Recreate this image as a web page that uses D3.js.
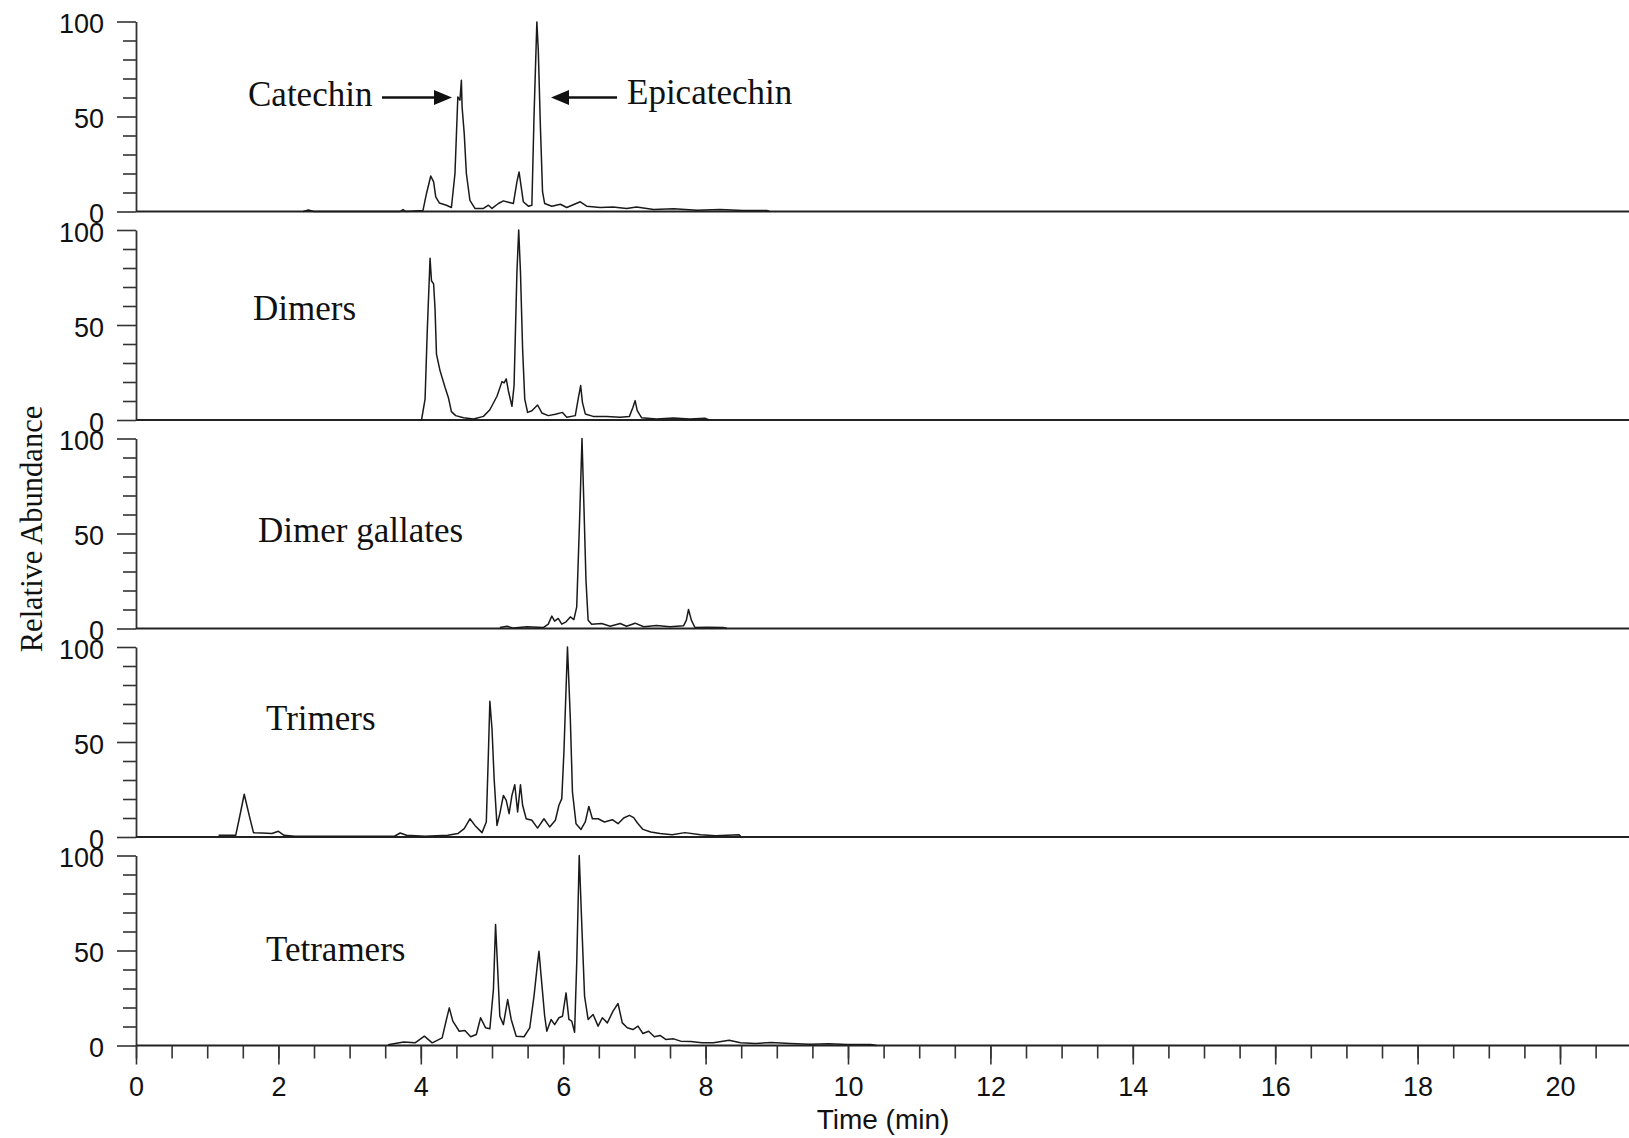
<!DOCTYPE html>
<html>
<head>
<meta charset="utf-8">
<script src="https://cdn.jsdelivr.net/npm/d3@7"></script>
<style>
  html, body { margin: 0; padding: 0; background: #fff; }
  svg { display: block; }
</style>
</head>
<body>
<svg id="chart" width="1629" height="1138"></svg>
<script>
// ---------------- DATA ----------------
const panelNames = ["Catechin / Epicatechin", "Dimers", "Dimer gallates", "Trimers", "Tetramers"];
const yTickLabels = [0, 50, 100];
const xTickLabels = [0, 2, 4, 6, 8, 10, 12, 14, 16, 18, 20];

// [time (min), relative abundance (%)]
const catechinTrace = [
  [2.35,0],[2.42,0.8],[2.5,0],[3.71,0],[3.75,1],[3.79,0],[4.03,0.5],[4.08,9.5],[4.14,18.7],[4.18,15.6],
  [4.21,7.7],[4.26,4.5],[4.36,3.3],[4.43,2.1],[4.48,20],[4.52,60.3],[4.55,58.6],[4.57,69.1],[4.58,55],
  [4.61,41],[4.64,20],[4.69,5.9],[4.76,1.6],[4.88,1.6],[4.95,3.3],[5.0,1.6],[5.09,4.2],[5.16,5.6],
  [5.23,4.9],[5.3,4.2],[5.35,15.6],[5.38,20.8],[5.41,13],[5.44,5.1],[5.51,2.8],[5.56,3.3],[5.59,49.8],
  [5.63,99.8],[5.65,84.9],[5.68,44.5],[5.71,10.3],[5.74,4.2],[5.84,2.8],[5.96,3.8],[6.05,2.1],[6.24,5.1],
  [6.33,2.8],[6.52,2.1],[6.7,2.4],[6.89,1.6],[7.03,2.4],[7.27,1],[7.55,1.4],[7.88,0.7],[8.2,1],
  [8.53,0.5],[8.86,0.5],[8.9,0]
];
const dimersTrace = [
  [4.01,0],[4.06,11],[4.09,46],[4.13,85.1],[4.15,73.3],[4.18,71.6],[4.2,58.4],[4.22,34.7],[4.27,26],
  [4.34,17.2],[4.39,11.4],[4.43,4.4],[4.49,2.3],[4.6,1.2],[4.74,0.5],[4.88,1.9],[4.97,5.4],[5.07,12.5],
  [5.14,20.2],[5.17,19.5],[5.2,21.6],[5.23,15.4],[5.28,7.2],[5.31,18.1],[5.35,77.7],[5.375,100],
  [5.4,77.7],[5.43,37.4],[5.46,11],[5.5,4],[5.56,4.9],[5.64,7.9],[5.7,3.7],[5.79,2.3],[5.89,3],
  [5.99,4],[6.05,1.4],[6.17,2.3],[6.21,11],[6.245,18.1],[6.27,9.3],[6.31,3.2],[6.42,1.9],[6.61,1.9],
  [6.8,1.4],[6.93,1.9],[6.98,6.7],[7.01,10.2],[7.04,4.9],[7.1,1.2],[7.31,0.5],[7.55,1],[7.78,0.5],
  [7.99,0.9],[8.05,0]
];
const gallatesTrace = [
  [5.11,0.5],[5.21,1.2],[5.3,0.2],[5.49,0.9],[5.72,0.5],[5.79,2.3],[5.84,6.5],[5.88,3.9],[5.93,5.3],
  [5.98,2.3],[6.04,3.5],[6.1,6.1],[6.15,4.7],[6.19,11.4],[6.23,57],[6.264,100],[6.29,65.8],[6.32,25.4],
  [6.35,4.4],[6.4,2.3],[6.54,2.6],[6.66,1.2],[6.8,2.6],[6.89,1.2],[7.01,2.8],[7.13,0.9],[7.31,1.6],
  [7.5,0.9],[7.69,1.4],[7.73,4.4],[7.76,10],[7.8,4.4],[7.85,0.5],[8.02,0.7],[8.25,0.5],[8.3,0]
];
const trimersTrace = [
  [1.16,0.9],[1.4,0.9],[1.45,9.6],[1.52,22.5],[1.59,11.4],[1.65,2.3],[1.77,2.1],[1.91,1.8],[2.0,3],
  [2.08,0.9],[2.23,0.4],[3.63,0.4],[3.71,2.1],[3.8,0.9],[4.06,0.4],[4.38,0.9],[4.52,1.8],[4.61,4.4],
  [4.69,9.6],[4.76,6.1],[4.86,2.3],[4.92,7.9],[4.95,44.7],[4.97,71.4],[5.0,57],[5.03,30.7],[5.07,6.1],
  [5.11,12.3],[5.16,21.9],[5.2,19.3],[5.24,12.3],[5.28,21.9],[5.32,27.5],[5.36,13.2],[5.4,27.5],
  [5.43,16.7],[5.48,9.6],[5.56,8.8],[5.64,4.7],[5.73,9.6],[5.81,5.3],[5.89,8.8],[5.94,16.7],[5.98,20.2],
  [6.01,44.7],[6.06,100],[6.1,62.3],[6.13,23.7],[6.18,7],[6.25,4],[6.31,7.9],[6.36,16.1],[6.41,9.6],
  [6.49,9.6],[6.58,7.9],[6.69,9.1],[6.77,7],[6.85,10],[6.93,11.4],[6.99,10.2],[7.04,7.5],[7.12,4],
  [7.23,2.6],[7.36,1.8],[7.53,1.2],[7.71,2.3],[7.93,1.2],[8.14,0.7],[8.47,1.2],[8.5,0]
];
const tetramersTrace = [
  [3.54,0.4],[3.76,1.9],[3.92,1.4],[4.05,4.9],[4.16,1.4],[4.3,4],[4.36,13.7],[4.4,19.8],[4.45,12.8],
  [4.54,7.5],[4.62,7.9],[4.7,4.6],[4.78,5.8],[4.84,14.6],[4.91,9.3],[4.97,8.8],[5.02,29.5],[5.05,63.7],
  [5.08,40],[5.11,15.4],[5.16,11],[5.22,24.2],[5.27,13.7],[5.34,4.9],[5.45,4.6],[5.53,9.3],[5.59,26],
  [5.64,43.5],[5.66,49.6],[5.69,36.5],[5.74,15.4],[5.77,7.5],[5.83,13.7],[5.88,11],[5.94,14.6],
  [5.99,15.4],[6.04,27.7],[6.08,13.7],[6.12,12.8],[6.16,7],[6.19,43.5],[6.225,100],[6.26,64.6],
  [6.3,26],[6.35,13.7],[6.42,16.3],[6.49,10.2],[6.55,14.6],[6.62,11.9],[6.7,18.1],[6.77,22.1],
  [6.83,11.9],[6.9,9.3],[6.98,8.4],[7.05,10.2],[7.12,6.3],[7.2,7.5],[7.28,4.6],[7.36,5.3],[7.44,3.2],
  [7.55,3.5],[7.65,2.3],[7.79,2.1],[7.95,1.4],[8.11,1.4],[8.33,2.8],[8.49,1.4],[8.7,1.1],[8.92,1.6],
  [9.19,1.1],[9.46,0.7],[9.73,0.9],[9.99,0.5],[10.32,0.5],[10.4,0]
];
const traces = [catechinTrace, dimersTrace, gallatesTrace, trimersTrace, tetramersTrace];

// ---------------- LAYOUT ----------------
const W = 1629, H = 1138;
const axisX = 136;
const firstBase = 211.5, panelStep = 208.5, panelH = 190;
const svg = d3.select("#chart");

const x = d3.scaleLinear().domain([0, 21]).range([axisX, axisX + 71.2 * 21]);

const sans = "'Liberation Sans', Arial, Helvetica, sans-serif";
const serif = "'Liberation Serif', 'Times New Roman', Times, serif";
const ink = "#1a1a1a";

const panels = traces.map((tr, i) => {
  const base = firstBase + i * panelStep;
  const y = d3.scaleLinear().domain([0, 100]).range([base, base - panelH]);
  return { tr, y, base };
});

panels.forEach((p, i) => {
  const g = svg.append("g");

  // minor y ticks
  const minor = g.append("g").attr("transform", `translate(${axisX},0)`)
    .call(d3.axisLeft(p.y).tickValues([10,20,30,40,60,70,80,90]).tickSize(13).tickFormat(""));
  minor.select(".domain").remove();
  minor.selectAll("line").attr("stroke", "#333").attr("stroke-width", 1.6);

  // major y ticks + labels
  const major = g.append("g").attr("transform", `translate(${axisX},0)`)
    .call(d3.axisLeft(p.y).tickValues(yTickLabels).tickSize(19).tickPadding(13).tickSizeOuter(0));
  major.select(".domain").attr("stroke", "#333").attr("stroke-width", 1.8);
  major.selectAll("line").attr("stroke", "#333").attr("stroke-width", 1.6);
  major.selectAll("text")
    .attr("font-family", sans).attr("font-size", 27).attr("fill", "#111").attr("dy", "0.42em");

  // baseline
  g.append("line")
    .attr("x1", x(0)).attr("x2", W)
    .attr("y1", p.y(0)).attr("y2", p.y(0))
    .attr("stroke", "#222").attr("stroke-width", 2.2);

  // trace
  g.append("path")
    .datum(p.tr)
    .attr("fill", "none")
    .attr("stroke", ink)
    .attr("stroke-width", 1.5)
    .attr("stroke-linejoin", "round")
    .attr("d", d3.line().x(d => x(d[0])).y(d => p.y(d[1])));
});

// bottom x axis
const bottomBase = panels[4].base;
const xMinor = svg.append("g").attr("transform", `translate(0,${bottomBase})`)
  .call(d3.axisBottom(x).tickValues(d3.range(0, 20.6, 0.5)).tickSize(13).tickFormat(""));
xMinor.select(".domain").remove();
xMinor.selectAll("line").attr("stroke", "#333").attr("stroke-width", 1.6);
const xMajor = svg.append("g").attr("transform", `translate(0,${bottomBase})`)
  .call(d3.axisBottom(x).tickValues(xTickLabels).tickSize(19).tickPadding(12).tickSizeOuter(0));
xMajor.select(".domain").remove();
xMajor.selectAll("line").attr("stroke", "#333").attr("stroke-width", 1.6);
xMajor.selectAll("text").attr("font-family", sans).attr("font-size", 27).attr("fill", "#111");

// axis titles
svg.append("text")
  .attr("x", 883).attr("y", 1129)
  .attr("text-anchor", "middle")
  .attr("font-family", sans).attr("font-size", 28).attr("fill", "#111")
  .text("Time (min)");

svg.append("text")
  .attr("transform", "translate(42,529) rotate(-90)")
  .attr("text-anchor", "middle")
  .attr("font-family", serif).attr("font-size", 30.5).attr("fill", "#111")
  .text("Relative Abundance");

// panel labels
const labelStyle = sel => sel.attr("font-family", serif).attr("font-size", 35).attr("fill", "#111");
svg.append("text").attr("x", 248).attr("y", 106).call(labelStyle).text("Catechin");
svg.append("text").attr("x", 627).attr("y", 104).call(labelStyle).text("Epicatechin");
svg.append("text").attr("x", 253).attr("y", 320).call(labelStyle).text(panelNames[1]);
svg.append("text").attr("x", 258).attr("y", 542).call(labelStyle).text(panelNames[2]);
svg.append("text").attr("x", 266).attr("y", 730).call(labelStyle).text(panelNames[3]);
svg.append("text").attr("x", 266).attr("y", 961).call(labelStyle).text(panelNames[4]);

// arrows (in data units of panel 1)
const y0 = panels[0].y;
function arrow(tTail, tTip, v) {
  const xt = x(tTail), xp = x(tTip), yy = y0(v);
  const dir = xp > xt ? 1 : -1;
  const headL = 18, headW = 7.5;
  svg.append("line")
    .attr("x1", xt).attr("x2", xp - dir * headL * 0.8)
    .attr("y1", yy).attr("y2", yy)
    .attr("stroke", "#111").attr("stroke-width", 2.6);
  svg.append("path")
    .attr("d", `M${xp},${yy} L${xp - dir * headL},${yy - headW} L${xp - dir * headL},${yy + headW} Z`)
    .attr("fill", "#111");
}
arrow(3.455, 4.438, 60);
arrow(6.756, 5.829, 60);
</script>
</body>
</html>
